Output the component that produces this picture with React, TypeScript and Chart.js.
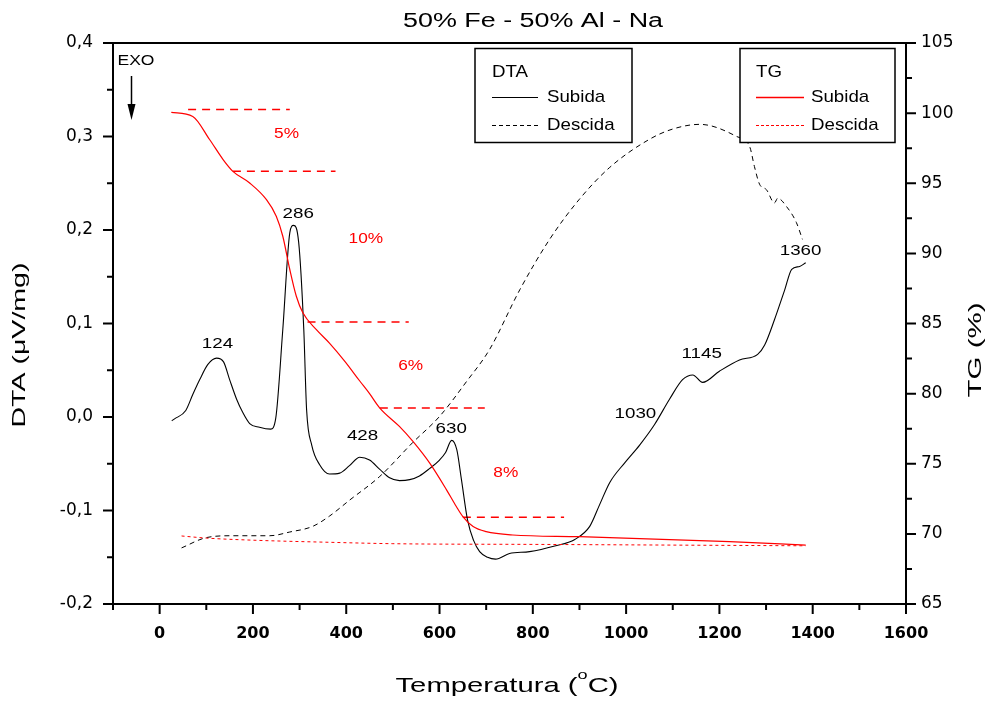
import React, { useEffect, useRef } from 'react';
import { Chart, registerables } from 'chart.js';

Chart.register(...registerables);

// ---------- DATA ----------
// DTA, heating (Subida) – temperature (°C) and DTA (µV/mg)
const dtaUpT = [26, 32, 56, 71, 86, 103, 122, 137, 150, 165, 178, 193, 214, 238, 249, 264, 279, 287, 298, 309, 315, 326, 343, 364, 386, 407, 429, 450, 472, 493, 514, 536, 557, 579, 600, 613, 626, 637, 647, 660, 673, 686, 703, 720, 750, 793, 847, 890, 922, 943, 965, 997, 1029, 1061, 1093, 1121, 1143, 1164, 1200, 1243, 1282, 1297, 1318, 1340, 1355, 1372, 1385];
const dtaUpV = [-0.004, -0.002, 0.007, 0.024, 0.04, 0.056, 0.063, 0.059, 0.04, 0.019, 0.005, -0.007, -0.011, -0.013, -0.001, 0.0935, 0.197, 0.205, 0.187, 0.0935, 0.008, -0.03, -0.051, -0.061, -0.06, -0.052, -0.043, -0.046, -0.056, -0.065, -0.068, -0.067, -0.063, -0.055, -0.046, -0.038, -0.025, -0.035, -0.067, -0.11, -0.132, -0.144, -0.15, -0.152, -0.146, -0.144, -0.138, -0.131, -0.117, -0.094, -0.07, -0.049, -0.03, -0.008, 0.019, 0.04, 0.045, 0.037, 0.049, 0.061, 0.067, 0.077, 0.104, 0.136, 0.158, 0.161, 0.165];

// DTA, cooling (Descida)
const dtaDownT = [47, 100, 156, 236, 279, 328, 364, 407, 472, 542, 600, 658, 707, 772, 836, 900, 965, 1050, 1100, 1158, 1237, 1265, 1275, 1286, 1301, 1318, 1325, 1344, 1365, 1378];
const dtaDownV = [-0.14, -0.129, -0.127, -0.127, -0.123, -0.117, -0.106, -0.089, -0.0635, -0.0276, 0.0006, 0.038, 0.072, 0.136, 0.19, 0.233, 0.267, 0.297, 0.308, 0.313, 0.3, 0.289, 0.268, 0.249, 0.243, 0.229, 0.234, 0.225, 0.208, 0.19];

// TG, heating (Subida) – temperature (°C) and mass (%)
const tgUpT = [25, 71, 107, 136, 157, 193, 229, 250, 264, 279, 293, 307, 336, 364, 397, 429, 450, 472, 514, 543, 579, 615, 636, 650, 672, 700, 757, 900, 1222, 1385];
const tgUpV = [100.05, 99.76, 98.12, 96.69, 95.85, 95.02, 93.83, 92.65, 91.22, 88.85, 86.94, 85.76, 84.56, 83.6, 82.3, 80.9, 80.0, 78.97, 77.66, 76.59, 75.04, 73.14, 71.95, 71.23, 70.52, 70.16, 69.92, 69.8, 69.45, 69.2];

// TG, cooling (Descida)
const tgDownT = [47, 100, 200, 364, 500, 800, 1100, 1385];
const tgDownV = [69.85, 69.7, 69.55, 69.4, 69.3, 69.25, 69.2, 69.15];

// Mass-loss step levels (TG %) with their temperature span
const stepStartT = [61, 157, 317, 472, 650];
const stepEndT = [279, 377, 534, 697, 867];
const stepLevelTG = [100.26, 95.85, 85.11, 78.97, 71.19];

// Mass-loss labels
const stepLabels = ['5%', '10%', '6%', '8%'];
const stepLabelT = [272, 442, 538, 742];
const stepLabelDTA = [0.303, 0.191, 0.055, -0.06];

// Peak labels
const peakLabels = ['124', '286', '428', '630', '1030', '1145', '1360'];
const peakLabelT = [124, 297, 435, 625, 1020, 1162, 1374];
const peakLabelDTA = [0.0785, 0.2177, -0.02, -0.0125, 0.0035, 0.0678, 0.178];

// Axis ticks
const xTicks = [0, 200, 400, 600, 800, 1000, 1200, 1400, 1600];
const dtaTicks = [-0.2, -0.1, 0, 0.1, 0.2, 0.3, 0.4];
const tgTicks = [65, 70, 75, 80, 85, 90, 95, 100, 105];

const X_MIN = -100;
const X_MAX = 1600;

// ---------- HELPERS ----------
const FONT = '"Liberation Sans", Arial, Helvetica, sans-serif';

function drawText(ctx: CanvasRenderingContext2D, text: string, x: number, y: number, size: number, opts: any = {}) {
  const { color = '#000', align = 'center', sx = 1, rotate = false, weight = 'normal', width } = opts;
  ctx.save();
  ctx.font = `${weight} ${size}px ${FONT}`;
  const w = ctx.measureText(text).width;
  const k = width ? width / w : sx;
  ctx.translate(x, y);
  if (rotate) ctx.rotate(-Math.PI / 2);
  ctx.scale(k, 1);
  ctx.fillStyle = color;
  ctx.textAlign = align;
  ctx.textBaseline = 'middle';
  ctx.fillText(text, 0, 0);
  ctx.restore();
}

const pts = (xs: number[], ys: number[]) => xs.map((x, i) => ({ x, y: ys[i] }));

const overlayPlugin = {
  id: 'overlay',
  afterDraw(chart: any) {
    const { ctx, chartArea: a, scales } = chart;
    const sx = scales.x;
    const sy = scales.y;
    const sy2 = scales.y2;
    ctx.save();

    // frame
    ctx.strokeStyle = '#000';
    ctx.lineWidth = 2;
    ctx.beginPath();
    ctx.moveTo(a.left - 1, a.top);
    ctx.lineTo(a.right + 1, a.top);
    ctx.moveTo(a.left - 1, a.bottom);
    ctx.lineTo(a.right + 1, a.bottom);
    ctx.moveTo(a.left, a.top);
    ctx.lineTo(a.left, a.bottom + 1);
    ctx.moveTo(a.right, a.top);
    ctx.lineTo(a.right, a.bottom + 1);
    ctx.stroke();

    // ticks: x (major every 200, minor at midpoints)
    ctx.beginPath();
    const xMinor = [X_MIN, ...xTicks.slice(0, -1).map((v, i) => (v + xTicks[i + 1]) / 2)];
    xTicks.forEach((v) => {
      const p = sx.getPixelForValue(v);
      ctx.moveTo(p, a.bottom);
      ctx.lineTo(p, a.bottom + 10);
    });
    xMinor.forEach((v) => {
      const p = sx.getPixelForValue(v);
      ctx.moveTo(p, a.bottom);
      ctx.lineTo(p, a.bottom + 6);
    });
    // left y
    dtaTicks.forEach((v, i) => {
      const p = sy.getPixelForValue(v);
      ctx.moveTo(a.left, p);
      ctx.lineTo(a.left - 10, p);
      if (i < dtaTicks.length - 1) {
        const q = sy.getPixelForValue((v + dtaTicks[i + 1]) / 2);
        ctx.moveTo(a.left, q);
        ctx.lineTo(a.left - 6, q);
      }
    });
    // right y
    tgTicks.forEach((v, i) => {
      const p = sy2.getPixelForValue(v);
      ctx.moveTo(a.right, p);
      ctx.lineTo(a.right + 10, p);
      if (i < tgTicks.length - 1) {
        const q = sy2.getPixelForValue((v + tgTicks[i + 1]) / 2);
        ctx.moveTo(a.right, q);
        ctx.lineTo(a.right + 6, q);
      }
    });
    ctx.stroke();

    // titles
    drawText(ctx, '50% Fe - 50% Al - Na', 533, 21, 20, { width: 260 });
    drawText(ctx, 'DTA (\u03BCV/mg)', 20, 345, 18, { rotate: true, width: 165 });
    drawText(ctx, 'TG (%)', 976, 350, 19, { rotate: true, width: 95 });

    // x axis title with superscript
    {
      const segs = [
        { t: 'Temperatura (', size: 21, dy: 0 },
        { t: 'o', size: 13, dy: -11 },
        { t: 'C)', size: 21, dy: 0 },
      ];
      let total = 0;
      const widths = segs.map((s) => {
        ctx.font = `normal ${s.size}px ${FONT}`;
        const w = ctx.measureText(s.t).width;
        total += w;
        return w;
      });
      const k = 223 / total;
      ctx.save();
      ctx.translate(507, 686);
      ctx.scale(k, 1);
      ctx.fillStyle = '#000';
      ctx.textAlign = 'left';
      ctx.textBaseline = 'middle';
      let cx = -total / 2;
      segs.forEach((s, i) => {
        ctx.font = `normal ${s.size}px ${FONT}`;
        ctx.fillText(s.t, cx, s.dy);
        cx += widths[i];
      });
      ctx.restore();
    }

    // peak labels
    peakLabels.forEach((t, i) => {
      drawText(ctx, t, sx.getPixelForValue(peakLabelT[i]), sy.getPixelForValue(peakLabelDTA[i]), 15, { sx: 1.25 });
    });
    // step labels
    stepLabels.forEach((t, i) => {
      drawText(ctx, t, sx.getPixelForValue(stepLabelT[i]), sy.getPixelForValue(stepLabelDTA[i]), 15, { sx: 1.15, color: '#ff0000' });
    });

    // EXO arrow
    drawText(ctx, 'EXO', 136, 61, 14, { sx: 1.25 });
    ctx.strokeStyle = '#000';
    ctx.lineWidth = 1.5;
    ctx.beginPath();
    ctx.moveTo(131.5, 76);
    ctx.lineTo(131.5, 108);
    ctx.stroke();
    ctx.fillStyle = '#000';
    ctx.beginPath();
    ctx.moveTo(127.5, 104);
    ctx.lineTo(135.5, 104);
    ctx.lineTo(131.5, 120);
    ctx.closePath();
    ctx.fill();

    // legends
    const legend = (bx: number, title: string, color: string, dash: number[], lineX0: number, lineX1: number, textX: number, w: number) => {
      ctx.save();
      ctx.fillStyle = '#fff';
      ctx.fillRect(bx, 48.5, w, 94);
      ctx.strokeStyle = '#000';
      ctx.lineWidth = 1.5;
      ctx.strokeRect(bx, 48.5, w, 94);
      drawText(ctx, title, lineX0, 72, 17, { align: 'left', sx: 1.1 });
      ctx.strokeStyle = color;
      ctx.lineWidth = color === '#000' ? 1 : 1.3;
      ctx.setLineDash([]);
      ctx.beginPath();
      ctx.moveTo(lineX0, 97.5);
      ctx.lineTo(lineX1, 97.5);
      ctx.stroke();
      ctx.setLineDash(dash);
      ctx.lineWidth = 1;
      ctx.beginPath();
      ctx.moveTo(lineX0, 125.5);
      ctx.lineTo(lineX1, 125.5);
      ctx.stroke();
      ctx.setLineDash([]);
      drawText(ctx, 'Subida', textX, 97, 17, { align: 'left', sx: 1.1 });
      drawText(ctx, 'Descida', textX, 125, 17, { align: 'left', sx: 1.1 });
      ctx.restore();
    };
    legend(475, 'DTA', '#000', [4, 3], 492, 538, 547, 157);
    legend(740, 'TG', '#ff0000', [3, 2], 756, 804, 811, 155);

    ctx.restore();
  },
};

export default function App() {
  const ref = useRef<HTMLCanvasElement | null>(null);

  useEffect(() => {
    document.body.style.margin = '0';
    const canvas = ref.current;
    if (!canvas) return;

    const stepSets = stepLevelTG.map((lvl, i) => ({
      label: 'step' + i,
      data: [
        { x: stepStartT[i], y: lvl },
        { x: stepEndT[i], y: lvl },
      ],
      yAxisID: 'y2',
      borderColor: '#ff0000',
      borderWidth: 1.5,
      borderDash: [8, 6],
      pointRadius: 0,
      fill: false,
    }));

    const chart = new Chart(canvas, {
      type: 'line',
      data: {
        datasets: [
          {
            label: 'TG Descida',
            data: pts(tgDownT, tgDownV),
            yAxisID: 'y2',
            borderColor: '#ff0000',
            borderWidth: 1,
            borderDash: [3, 3],
            pointRadius: 0,
            cubicInterpolationMode: 'monotone',
          },
          {
            label: 'DTA Descida',
            data: pts(dtaDownT, dtaDownV),
            yAxisID: 'y',
            borderColor: '#000',
            borderWidth: 1,
            borderDash: [5, 4],
            pointRadius: 0,
            cubicInterpolationMode: 'monotone',
          },
          {
            label: 'TG Subida',
            data: pts(tgUpT, tgUpV),
            yAxisID: 'y2',
            borderColor: '#ff0000',
            borderWidth: 1.2,
            pointRadius: 0,
            cubicInterpolationMode: 'monotone',
          },
          {
            label: 'DTA Subida',
            data: pts(dtaUpT, dtaUpV),
            yAxisID: 'y',
            borderColor: '#000',
            borderWidth: 1.1,
            pointRadius: 0,
            cubicInterpolationMode: 'monotone',
          },
          ...stepSets,
        ] as any,
      },
      options: {
        responsive: false,
        maintainAspectRatio: false,
        devicePixelRatio: 1,
        animation: false,
        layout: { padding: { top: 43, left: 0, right: 0, bottom: 0 } },
        plugins: {
          legend: { display: false },
          title: { display: false },
          tooltip: { enabled: false },
        },
        scales: {
          x: {
            type: 'linear',
            position: 'bottom',
            min: X_MIN,
            max: X_MAX,
            grid: { display: false, drawTicks: false },
            border: { display: false },
            afterBuildTicks: (s: any) => {
              s.ticks = xTicks.map((v) => ({ value: v }));
            },
            afterFit: (s: any) => {
              s.height = 100;
            },
            ticks: {
              padding: 20,
              color: '#000',
              maxRotation: 0,
              autoSkip: false,
              font: { family: 'DejaVu Sans', size: 16, weight: 'bold' },
              callback: (v: any) => String(v),
            },
          },
          y: {
            type: 'linear',
            position: 'left',
            min: -0.2,
            max: 0.4,
            grid: { display: false, drawTicks: false },
            border: { display: false },
            afterBuildTicks: (s: any) => {
              s.ticks = dtaTicks.map((v) => ({ value: v }));
            },
            afterFit: (s: any) => {
              s.width = 113;
            },
            ticks: {
              padding: 20,
              color: '#000',
              autoSkip: false,
              font: { family: 'DejaVu Sans', size: 17 },
              callback: (v: any) => Number(v).toFixed(1).replace('.', ','),
            },
          },
          y2: {
            type: 'linear',
            position: 'right',
            min: 65,
            max: 105,
            grid: { display: false, drawTicks: false },
            border: { display: false },
            afterBuildTicks: (s: any) => {
              s.ticks = tgTicks.map((v) => ({ value: v }));
            },
            afterFit: (s: any) => {
              s.width = 85;
            },
            ticks: {
              padding: 15,
              color: '#000',
              autoSkip: false,
              font: { family: 'DejaVu Sans', size: 17 },
              callback: (v: any) => String(v),
            },
          },
        },
      } as any,
      plugins: [overlayPlugin],
    });

    return () => {
      chart.destroy();
    };
  }, []);

  return <canvas ref={ref} width={991} height={704} style={{ display: 'block' }} />;
}
